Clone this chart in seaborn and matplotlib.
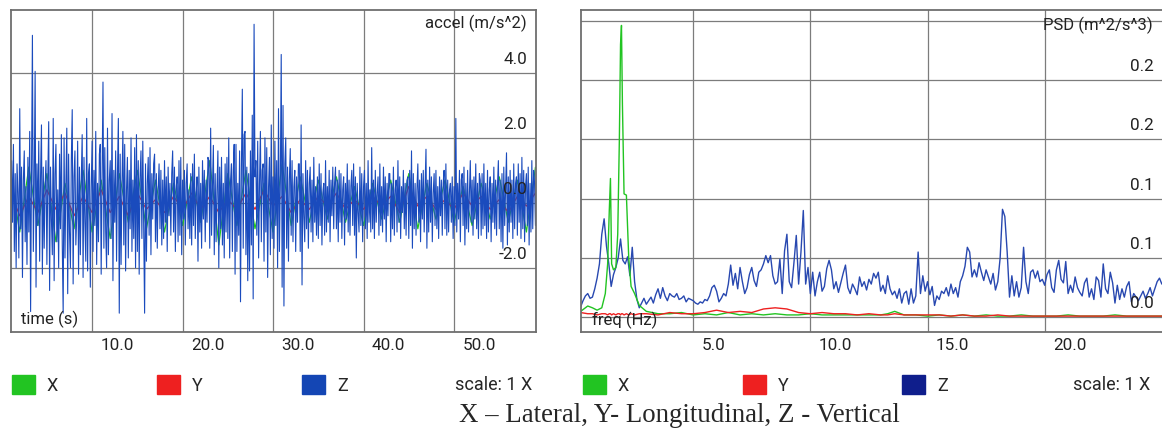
import matplotlib.pyplot as plt
import matplotlib.transforms as mtransforms
from matplotlib.patches import Patch
import numpy as np
import seaborn as sns

# ---- acceleration (m/s^2), Z sampled every 0.1 s from 0.9 s ----
accel_z = [
    0.4, -1.1, 1.3, -0.6, 1.8, -1.5, 0.9, -2.0, 1.2, 0.3, -1.7, 2.9, -0.8, 1.1, -2.3, 0.7, 1.6, -1.2, 0.5, -1.9,
    1.4, -0.9, 2.2, -3.35, 1.0, 5.16, -1.5, 0.6, 4.05, -2.6, 1.2, -0.7, 1.9, -1.8, 0.8, 2.4, -2.2, 1.1, -1.4, 0.5,
    1.3, -1.9, 0.7, 2.5, -2.7, 1.1, -0.5, -1.6, 2.6, -2.4, 0.9, 1.8, -1.2, 0.4, -2.0, 1.5, -0.8, 2.1, -1.3, -3.4,
    2.0, -1.7, 0.6, 2.3, -2.8, 1.5, -0.9, -2.0, 1.3, 2.87, -2.5, 0.8, 1.6, -1.3, -0.4, 1.9, -2.2, 1.1, -1.6, 0.7,
    2.1, -2.3, 1.4, -0.6, -1.8, 2.6, -2.1, 0.9, 1.2, -2.6, 0.5, 1.9, -1.5, 1.0, -0.7, 2.2, -1.9, 0.6, -1.2, 1.5,
    1.8, -2.2, 0.8, 3.72, -1.4, 1.7, -0.9, -2.0, 2.3, -1.6, 0.7, 1.3, -1.1, 2.75, -2.4, 1.0, -0.6, 1.6, -1.8, 0.9,
    2.6, -3.4, 1.5, -1.9, 0.6, 2.2, -1.3, 1.8, -2.1, 0.4, 1.4, -1.7, 1.0, -0.8, 2.0, -1.5, 0.7, -1.1, 1.7, -2.0,
    2.1, -1.5, 1.3, -2.2, 0.8, 1.6, -1.1, 1.9, -0.7, -3.4, 1.2, -1.8, 0.6, 1.4, -1.0, 1.7, -1.6, 0.9, -0.5, 1.2,
    1.5, -1.2, 0.9, -1.4, 0.4, 1.2, -0.8, 1.0, -1.3, 0.7, -1.1, 1.3, -0.6, 0.8, -1.5, 1.1, -0.4, 0.6, -1.0, 0.9,
    1.6, -0.9, 1.1, -1.5, 0.5, 0.8, -1.2, 1.3, -1.0, 1.4, -1.6, 0.7, -0.5, 1.0, -1.3, 0.6, 1.2, -0.8, 0.4, -1.1,
    0.9, -1.3, 1.2, -0.7, 1.5, -1.1, 0.3, 0.8, -1.8, 1.1, -0.9, 0.6, -1.4, 1.3, -0.5, 1.0, -1.2, 0.7, -0.6, 1.4,
    1.3, -1.4, 2.3, -1.0, 0.5, 1.77, -1.6, 0.9, -1.2, 0.4, 1.6, -2.0, 1.1, -0.8, 1.4, -1.3, 0.6, -1.7, 1.2, -0.9,
    1.4, -1.1, 2.0, -1.7, 0.7, 1.2, -1.5, 1.0, 1.8, -2.2, 1.8, -1.5, 0.6, -1.0, 1.6, -3.05, 1.1, 3.5, -1.4, 2.1,
    2.2, -1.6, 1.1, -2.4, 0.9, -2.1, 1.6, -1.3, 2.7, -2.96, 5.5, 0.8, 1.3, -1.0, 1.9, -1.7, 0.6, 2.2, -1.2, 1.0,
    1.2, -1.8, 2.0, -0.9, 1.7, -2.3, 0.5, 1.4, -1.6, 2.4, -1.1, 0.8, -1.4, 1.9, -0.7, 1.3, -2.0, 2.9, -1.5, 0.6,
    4.57, -2.6, 3.0, -3.18, 1.2, 2.0, -1.4, 1.1, -1.8, 0.7, 1.67, -1.0, 1.3, -1.2, 0.5, 1.0, -1.5, 0.8, -0.6, 1.2,
    1.2, -1.5, 2.4, -2.53, 0.9, -0.4, -1.2, 1.3, -0.8, 1.0, -1.4, 0.6, 1.1, -0.9, 0.7, -1.2, 1.4, -0.6, 0.5, -1.0,
    0.8, -1.1, 1.2, -0.7, 0.9, -1.3, 0.3, 0.6, -1.0, 1.3, -0.9, 0.5, -0.6, 1.0, -1.2, 0.7, -0.4, 1.1, -0.8, 0.6,
    1.1, -0.8, 0.7, -1.2, 1.0, -0.6, 0.9, -1.1, 0.4, 0.8, -1.3, 0.6, -0.5, 1.2, -0.9, 0.7, -1.0, 0.5, 1.0, -0.7,
    1.2, -1.0, 0.8, -1.7, 0.6, -0.3, -0.9, 1.1, -0.7, 0.9, -1.2, 0.5, 1.0, -0.8, 0.6, -1.1, 1.3, -0.6, 0.4, -0.9,
    1.7, -0.8, 0.7, -1.1, 1.0, -0.6, 0.3, 0.8, -1.0, 1.2, -0.7, 0.5, -0.9, 1.1, -0.5, 0.8, -1.2, 0.6, -0.4, 0.9,
    0.9, -1.2, 0.6, -0.8, 1.1, -1.0, 0.4, 0.7, -0.9, 1.3, -0.6, 0.8, -1.1, 0.5, -0.3, 1.0, -0.8, 0.6, -1.0, 0.7,
    0.8, -1.1, 1.0, -0.7, 1.6, -1.4, 0.9, -0.8, 0.6, -1.0, 0.4, 1.2, -0.6, 0.7, -1.2, 0.9, -0.5, 1.0, -0.9, 0.5,
    1.65, -1.4, 0.7, -0.9, 1.1, -0.6, 0.8, -1.2, 0.3, 0.9, -0.7, 1.0, -0.8, 0.5, -1.1, 0.8, -0.4, 0.7, -1.0, 0.6,
    1.0, -0.8, 1.2, -1.0, 0.7, -0.9, 0.4, 0.6, -0.6, 0.8, -1.1, 0.5, -0.7, 2.6, -0.9, 0.6, -0.5, 1.0, -1.2, 0.7,
    0.9, -0.7, 1.1, -1.3, 0.6, -0.8, 1.0, -0.9, 0.3, 1.3, -0.6, 0.7, -1.0, 0.8, -0.5, 1.2, -0.8, 0.6, -1.1, 0.9,
    0.7, -1.0, 0.9, -0.8, 1.2, -0.7, 0.6, -1.1, 1.0, -0.9, 0.4, 0.8, -1.2, 0.6, -0.6, 1.1, -0.8, 0.7, -1.0, 0.5,
    1.3, -0.8, 0.7, -1.2, 0.9, -1.4, 1.1, -0.7, 0.4, 1.54, -1.3, 0.8, -0.9, 1.0, -0.6, 0.7, -1.1, 1.2, -0.8, 0.6,
    0.8, -1.0, 1.2, -0.6, 0.9, -1.1, 1.4, -0.8, 1.0, -1.2, 0.5, 0.9, -0.7, 1.1, -1.3, 0.6, -0.9, 1.3, -0.8, 1.0,
    0.6, -0.7, 0.9,
]
time_z = 0.9 + 0.1 * np.arange(len(accel_z))

# X and Y, one reading per second from 1 s
accel_x = [
    0.8, -0.9, 1.1, -0.7, 0.9, -1.2, 0.6, -0.8, 1.0, -0.9,
    0.7, -1.1, 0.9, -0.6, 1.0, -0.8, 0.7, -0.9, 0.6, -0.7,
    0.8, -0.6, 1.3, -1.3, 0.9, -0.7, 1.0, -0.8, 0.6, -0.9,
    1.2, -0.7, 0.8, -0.6, 0.7, -0.5, 0.8, -0.6, 0.5, -0.7,
    0.6, -0.5, 0.7, -0.6, 0.9, -0.8, 0.6, -0.5, 0.7, -0.6,
    0.5, -0.7, 0.6, -0.5, 0.8, -0.6, 0.7, -0.9, 1.1,
]
accel_y = [
    0.3, -0.4, 0.2, -0.3, 0.4, -0.2, 0.3, -0.4, 0.2, -0.3,
    0.4, -0.3, 0.2, -0.4, 0.3, -0.2, 0.1, -0.3, 0.2, -0.2,
    0.3, -0.2, 0.2, -0.3, 0.1, -0.2, 0.3, -0.2, 0.4, -0.1,
    0.2, -0.3, 0.1, -0.2, 0.2, -0.1, 0.3, -0.2, 0.1, -0.2,
    0.2, -0.1, 0.2, -0.3, 0.5, -0.1, 0.2, -0.2, 0.1, -0.2,
    0.3, -0.1, 0.2, -0.2, 0.1, -0.3, 0.2, -0.1, 0.3,
]
time_xy = np.arange(1, len(accel_x) + 1)

# ---- PSD (m^2/s^3), Z on a 0.1 Hz grid from 0.2 Hz ----
psd_z = [
    0.009, 0.014, 0.018, 0.020, 0.016, 0.017, 0.024, 0.033, 0.045,
    0.070, 0.083, 0.060, 0.045, 0.026, 0.036, 0.042, 0.050, 0.066, 0.048,
    0.045, 0.051, 0.035, 0.059, 0.030, 0.015, 0.008, 0.012, 0.016, 0.011,
    0.014, 0.017, 0.012, 0.019, 0.024, 0.016, 0.025, 0.018, 0.014, 0.020,
    0.018, 0.017, 0.020, 0.015, 0.016, 0.018, 0.013, 0.016, 0.015, 0.014,
    0.012, 0.011, 0.013, 0.012, 0.015, 0.014, 0.018, 0.025, 0.027, 0.022,
    0.013, 0.016, 0.020, 0.018, 0.028, 0.044, 0.027, 0.037, 0.024, 0.042,
    0.030, 0.020, 0.025, 0.036, 0.042, 0.031, 0.026, 0.038, 0.040, 0.045,
    0.052, 0.046, 0.052, 0.035, 0.028, 0.030, 0.049, 0.020, 0.056, 0.070,
    0.030, 0.025, 0.046, 0.069, 0.028, 0.055, 0.090, 0.028, 0.042, 0.020,
    0.038, 0.018, 0.030, 0.038, 0.022, 0.026, 0.041, 0.048, 0.040, 0.024,
    0.030, 0.021, 0.029, 0.037, 0.044, 0.025, 0.020, 0.028, 0.024, 0.019,
    0.034, 0.026, 0.030, 0.023, 0.032, 0.028, 0.037, 0.033, 0.038, 0.022,
    0.027, 0.020, 0.035, 0.024, 0.019, 0.022, 0.016, 0.024, 0.012, 0.020,
    0.022, 0.011, 0.024, 0.012, 0.018, 0.055, 0.020, 0.035, 0.022, 0.030,
    0.019, 0.026, 0.010, 0.018, 0.015, 0.022, 0.020, 0.025, 0.018, 0.028,
    0.020, 0.025, 0.017, 0.030, 0.035, 0.043, 0.059, 0.055, 0.034, 0.040,
    0.034, 0.046, 0.038, 0.031, 0.040, 0.034, 0.028, 0.037, 0.023, 0.030,
    0.050, 0.091, 0.085, 0.055, 0.017, 0.035, 0.018, 0.030, 0.017, 0.025,
    0.059, 0.030, 0.020, 0.038, 0.040, 0.033, 0.039, 0.030, 0.032, 0.027,
    0.036, 0.040, 0.025, 0.021, 0.040, 0.048, 0.032, 0.029, 0.047, 0.020,
    0.027, 0.021, 0.034, 0.025, 0.021, 0.018, 0.029, 0.033, 0.017, 0.024,
    0.015, 0.034, 0.031, 0.017, 0.045, 0.024, 0.020, 0.038, 0.029, 0.012,
    0.027, 0.015, 0.024, 0.017, 0.026, 0.030, 0.013, 0.020, 0.017, 0.014,
    0.018, 0.022, 0.016, 0.020, 0.025, 0.018, 0.024, 0.030, 0.033, 0.028,
]
freq_z = np.round(0.2 + 0.1 * np.arange(len(psd_z)), 1)

# X and Y PSD read at these frequencies
freq_xy = [
    0.2, 0.5, 0.7, 0.9, 1.1, 1.25, 1.35, 1.42, 1.47, 1.52,
    1.6, 1.7, 1.78, 1.85, 1.9, 1.94, 1.98, 2.05, 2.15, 2.25,
    2.35, 2.5, 2.7, 3.0, 3.5, 4.0, 4.5, 5.0, 5.5, 6.0,
    6.5, 7.0, 7.5, 8.0, 8.5, 9.0, 9.5, 10.0, 10.5, 11.0,
    11.5, 12.0, 12.5, 13.0, 13.3, 13.6, 14.0, 14.5, 15.0, 15.5,
    16.0, 16.5, 17.0, 17.5, 18.0, 18.5, 19.0, 19.5, 20.0, 20.5,
    21.0, 21.5, 22.0, 22.5, 23.0, 23.5, 24.0, 24.5, 25.0,
]
psd_x = [
    0.005, 0.0095, 0.008, 0.006, 0.008, 0.020, 0.045, 0.090, 0.117, 0.045,
    0.040, 0.042, 0.070, 0.150, 0.230, 0.246, 0.180, 0.104, 0.103, 0.050,
    0.026, 0.020, 0.010, 0.005, 0.003, 0.003, 0.004, 0.002, 0.003, 0.002,
    0.004, 0.002, 0.003, 0.002, 0.003, 0.002, 0.002, 0.003, 0.002, 0.002,
    0.002, 0.002, 0.002, 0.002, 0.003, 0.005, 0.002, 0.002, 0.001, 0.002,
    0.001, 0.002, 0.001, 0.002, 0.001, 0.001, 0.002, 0.001, 0.001, 0.001,
    0.002, 0.001, 0.001, 0.001, 0.002, 0.001, 0.001, 0.001, 0.001,
]
psd_y = [
    0.004, 0.003, 0.003, 0.002, 0.003, 0.003, 0.002, 0.003, 0.003, 0.002,
    0.003, 0.002, 0.003, 0.003, 0.002, 0.003, 0.003, 0.002, 0.003, 0.002,
    0.003, 0.002, 0.003, 0.003, 0.002, 0.004, 0.003, 0.003, 0.004, 0.006,
    0.004, 0.005, 0.004, 0.007, 0.008, 0.007, 0.004, 0.003, 0.004, 0.003,
    0.003, 0.002, 0.003, 0.002, 0.002, 0.003, 0.002, 0.002, 0.002, 0.002,
    0.001, 0.002, 0.001, 0.001, 0.002, 0.001, 0.001, 0.001, 0.001, 0.001,
    0.001, 0.001, 0.001, 0.001, 0.001, 0.001, 0.001, 0.001, 0.001,
]

# ticks and labels
accel_ticks = [-2.0, 0.0, 2.0, 4.0]
accel_labels = ['-2.0', '0.0', '2.0', '4.0']
time_ticks = [10.0, 20.0, 30.0, 40.0, 50.0]
time_labels = ['10.0', '20.0', '30.0', '40.0', '50.0']
psd_ticks = [0.0, 0.05, 0.10, 0.15, 0.20, 0.25]
psd_labels = ['0.0', '0.1', '0.1', '0.2', '0.2', '']
freq_ticks = [5.0, 10.0, 15.0, 20.0]
freq_labels = ['5.0', '10.0', '15.0', '20.0']

GREEN = '#22c422'
RED = '#ee2020'
BLUE_L = '#1a4bbd'
BLUE_R = '#2848b0'

sns.set_style('white')
plt.rcParams['font.family'] = ['Roboto', 'DejaVu Sans']

W, H = 1162, 432
fig = plt.figure(figsize=(W / 100, H / 100), dpi=100)
ax1 = fig.add_axes([10.7 / W, 100 / H, (536 - 10.7) / W, 322 / H])
ax2 = fig.add_axes([580.7 / W, 100 / H, (1163 - 580.7) / W, 322 / H])

# left: acceleration
sns.lineplot(x=time_xy, y=accel_x, ax=ax1, color=GREEN, lw=0.9)
sns.lineplot(x=time_xy, y=accel_y, ax=ax1, color=RED, lw=0.9)
sns.lineplot(x=time_z, y=accel_z, ax=ax1, color=BLUE_L, lw=0.8)
ax1.set_xlim(1.0, 59.06)
ax1.set_ylim(-3.98, 5.94)

# right: PSD
sns.lineplot(x=freq_z, y=psd_z, ax=ax2, color=BLUE_R, lw=1.0)
sns.lineplot(x=freq_xy, y=psd_x, ax=ax2, color=GREEN, lw=1.0)
sns.lineplot(x=freq_xy, y=psd_y, ax=ax2, color=RED, lw=1.0)
ax2.set_xlim(0.2, 25.05)
ax2.set_ylim(-0.0124, 0.259)


def style_axis(ax, xticks, xlabels, yticks, ylabels, xname, yname, xname_pos, yname_pos):
    ax.set_xlabel('')
    ax.set_ylabel('')
    ax.set_xticks(xticks)
    ax.set_yticks(yticks)
    ax.grid(True, color='#7c7c7c', lw=0.9)
    ax.set_axisbelow(True)
    for sp in ax.spines.values():
        sp.set_visible(True)
        sp.set_color('#6e6e6e')
        sp.set_linewidth(1.3)
    ax.tick_params(axis='x', direction='out', length=14.4, width=1.0,
                   color='#6e6e6e', labelbottom=False)
    ax.tick_params(axis='y', length=0, labelleft=False)
    # tick labels sit beside the tick lines / above the grid lines
    xt = mtransforms.blended_transform_factory(ax.transData, ax.transAxes) + \
        mtransforms.ScaledTranslation(0.085, 0, fig.dpi_scale_trans)
    for v, s in zip(xticks, xlabels):
        ax.text(v, -14 / 322, s, transform=xt, ha='left', va='center',
                fontsize=12.3, color='#222222', clip_on=False)
    yt = mtransforms.blended_transform_factory(ax.transAxes, ax.transData) + \
        mtransforms.ScaledTranslation(-0.09, 0.135, fig.dpi_scale_trans)
    for v, s in zip(yticks, ylabels):
        ax.text(1.0, v, s, transform=yt, ha='right', va='center',
                fontsize=12.3, color='#222222')
    ax.text(xname_pos[0], xname_pos[1], xname, transform=ax.transAxes,
            ha='left', va='center', fontsize=12, color='#222222')
    ax.text(yname_pos[0], yname_pos[1], yname, transform=ax.transAxes,
            ha='right', va='center', fontsize=12, color='#222222')


style_axis(ax1, time_ticks, time_labels, accel_ticks, accel_labels,
           'time (s)', 'accel (m/s^2)',
           ((21 - 10.7) / 525.3, 13 / 322), (1 - 9 / 525.3, 1 - 13.3 / 322))
style_axis(ax2, freq_ticks, freq_labels, psd_ticks, psd_labels,
           'freq (Hz)', 'PSD (m^2/s^3)',
           ((592 - 580.7) / 582.3, 12 / 322), (1 - 10 / 582.3, 1 - 15 / 322))

# legends under each panel
series_names = ['X', 'Y', 'Z']
left_handles = [Patch(color=c) for c in [GREEN, RED, '#1446b4']]
right_handles = [Patch(color=c) for c in [GREEN, RED, '#0f1e8c']]
leg_kw = dict(loc='center left', ncol=3, frameon=False, fontsize=13,
              handlelength=1.27, handleheight=1.22, handletextpad=0.66,
              borderpad=0, borderaxespad=0)
fig.legend(left_handles, series_names, bbox_to_anchor=(12 / W, 1 - 385 / H),
           columnspacing=5.5, **leg_kw)
fig.legend(right_handles, series_names, bbox_to_anchor=(583 / W, 1 - 385 / H),
           columnspacing=6.3, **leg_kw)
fig.text(455 / W, 1 - 385 / H, 'scale: 1 X', ha='left', va='center', fontsize=13)
fig.text(1073 / W, 1 - 385 / H, 'scale: 1 X', ha='left', va='center', fontsize=13)

fig.text(679.5 / W, 1 - 416 / H, 'X \u2013 Lateral, Y- Longitudinal, Z - Vertical',
         ha='center', va='center', fontsize=19.4, family='Liberation Serif')

fig.savefig('out.png', dpi=100)
